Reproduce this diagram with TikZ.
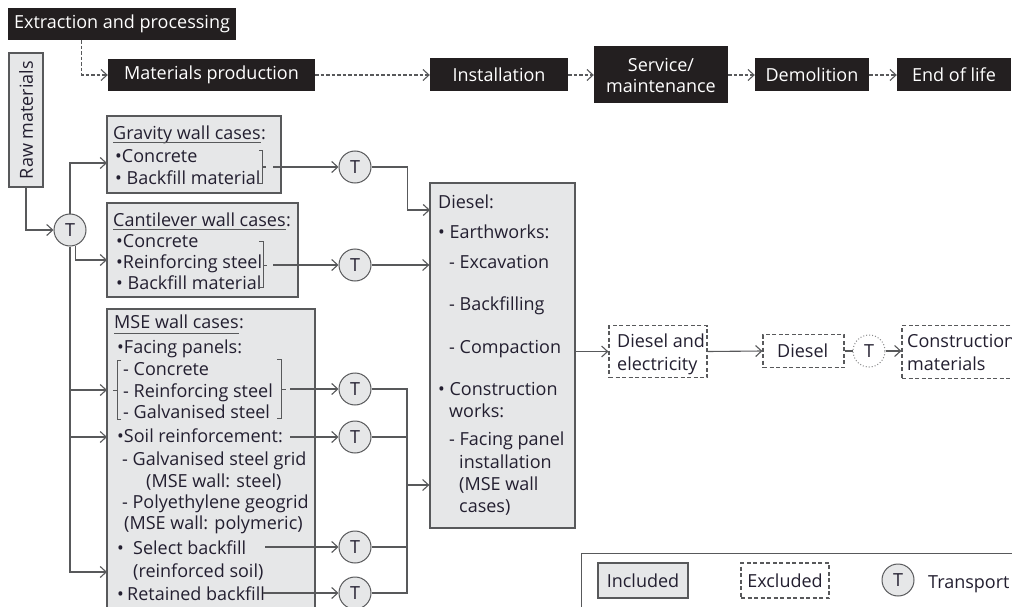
\documentclass[tikz,border=0pt]{standalone}
\usepackage{fontspec}
\setmainfont{Open Sans}
\usetikzlibrary{arrows.meta}
\definecolor{bk}{HTML}{231F20}
\definecolor{gf}{HTML}{E6E7E8}
\definecolor{lc}{HTML}{58595B}
\definecolor{tx}{HTML}{231F30}
\tikzset{
  blk/.style={fill=bk, text=white, inner sep=0pt, align=center},
  inc/.style={fill=gf, draw=lc, line width=1.3pt, inner sep=0pt, text=tx},
  exc/.style={draw=lc, line width=1.2pt, dash pattern=on 4pt off 2.5pt, inner sep=0pt, text=tx},
  tc/.style={circle, draw=lc, fill=gf, line width=1pt, minimum size=32pt, inner sep=0pt, text=tx},
  td/.style={circle, draw=lc!70, dotted, line width=1pt, minimum size=32pt, inner sep=0pt, text=tx},
  txt/.style={anchor=base west, inner sep=0pt, text=tx},
  wire/.style={draw=lc, line width=1.1pt},
  arr/.style={wire, -{Straight Barb[length=6pt,width=11pt]}},
  darr/.style={arr, dash pattern=on 3.5pt off 2pt},
  brk/.style={draw=lc, line width=1pt},
}
\begin{document}
\begin{tikzpicture}[x=1pt,y=-1pt,font=\fontsize{18}{21}\selectfont]
\clip (0,0) rectangle (1012,607);
\fill[white] (0,0) rectangle (1012,607);

% top chain
\node[blk, minimum width=228pt, minimum height=32pt] (extr) at (122,24) {Extraction and processing};
\node[blk, minimum width=207pt, minimum height=32pt] (matprod) at (211.5,75) {Materials production};
\node[blk, minimum width=138pt, minimum height=33pt] (install) at (499,75) {Installation};
\node[blk, minimum width=134pt, minimum height=57pt] (service) at (661,75) {Service/\\maintenance};
\node[blk, minimum width=114pt, minimum height=33pt] (demol) at (812,75) {Demolition};
\node[blk, minimum width=114pt, minimum height=33pt] (eol) at (954,75) {End of life};
\draw[darr] ([xshift=74pt]extr.south west) |- (matprod.west);
\draw[darr] (matprod.east) -- (install.west);
\draw[darr] (install.east) -- (service.west);
\draw[darr] (service.east) -- (demol.west);
\draw[darr] (demol.east) -- (eol.west);

% raw materials
\node[inc, minimum width=34pt, minimum height=134pt] (raw) at (26,120) {};
\node[rotate=90, text=tx, inner sep=0pt] (rawt) at (raw.center) {Raw materials};

% boxes
\node[inc, minimum width=174pt, minimum height=77pt] (grav) at (194,154.5) {};
\node[inc, minimum width=191pt, minimum height=94pt] (cant) at (202.5,250) {};
\node[inc, minimum width=208pt, minimum height=311pt] (mse) at (211,464.5) {};
\node[inc, minimum width=145pt, minimum height=345pt] (diesel) at (502.5,355.5) {};
\node[exc, minimum width=98pt, minimum height=52pt] (ex1) at (658,351.5) {};
\node[exc, minimum width=81pt, minimum height=33pt] (ex2) at (803.5,351) {};
\node[exc, minimum width=138pt, minimum height=53pt] (ex3) at (971,352) {};

% T circles
\node[tc] (t0) at (70,230) {T};
\node[tc] (t1) at (355,167) {T};
\node[tc] (t2) at (355,265) {T};
\node[tc] (t3) at (355,389) {T};
\node[tc] (t4) at (355,437) {T};
\node[tc] (t5) at (355,547) {T};
\node[tc] (t6) at (355,593) {T};
\node[td] (tdot) at (869,351) {T};

% gravity text
\node[txt] (gt) at (113,140) {Gravity wall cases};
\node[txt] at (gt.base east) {:};
\draw[brk] ([yshift=-3pt]gt.base west) -- ([yshift=-3pt]gt.base east);
\node[txt] at (115,163) {•Concrete};
\node[txt] at (115,184) {• Backfill material};
\draw[brk] (259,151) -- (262,151) -- (262,183) -- (259,183);
\draw[brk] (262,167) -- (266,167);

% cantilever text
\node[txt] (ct) at (113,226) {Cantilever wall cases};
\node[txt] at (ct.base east) {:};
\draw[brk] ([yshift=-3pt]ct.base west) -- ([yshift=-3pt]ct.base east);
\node[txt] at (116,247) {•Concrete};
\node[txt] at (116,268) {•Reinforcing steel};
\node[txt] at (116,289) {• Backfill material};
\draw[brk] (259,241) -- (263,241) -- (263,287) -- (259,287);
\draw[brk] (263,265) -- (267,265);

% MSE text
\node[txt] (mt) at (114,328) {MSE wall cases};
\node[txt] at (mt.base east) {:};
\draw[brk] ([yshift=-5pt]mt.base west) -- ([yshift=-5pt]mt.base east);
\node[txt] at (117,353) {•Facing panels:};
\node[txt] at (123,375) {- Concrete};
\node[txt] at (123,397) {- Reinforcing steel};
\node[txt] at (123,418) {- Galvanised steel};
\draw[brk] (121,360) -- (117,360) -- (117,419) -- (121,419);
\draw[brk] (113,390) -- (117,390);
\draw[brk] (277,359) -- (281,359) -- (281,418) -- (277,418);
\draw[brk] (281,389) -- (286,389);
\node[txt] at (117,442) {•Soil reinforcement:};
\node[txt] at (122,465) {- Galvanised steel grid};
\node[txt] at (146,487) {(MSE wall: steel)};
\node[txt] at (122,508) {- Polyethylene geogrid};
\node[txt] at (124,529) {(MSE wall: polymeric)};
\node[txt] at (117,554) {•};
\node[txt] at (133,554) {Select backfill};
\node[txt] at (133,577) {(reinforced soil)};
\node[txt] at (117,600) {•};
\node[txt] at (127,600) {Retained backfill};

% diesel text
\node[txt] at (438,208) {Diesel:};
\node[txt] at (438,238) {• Earthworks:};
\node[txt] at (449,268) {- Excavation};
\node[txt] at (449,310) {- Backfilling};
\node[txt] at (449,353) {- Compaction};
\node[txt] at (438,395) {• Construction};
\node[txt] at (449,417) {works:};
\node[txt] at (449,445) {- Facing panel};
\node[txt] at (459,468) {installation};
\node[txt] at (459,490) {(MSE wall};
\node[txt] at (459,512) {cases)};

% excluded texts
\node[txt] at (617,347) {Diesel and};
\node[txt] at (617,370) {electricity};
\node[txt] at (777,357) {Diesel};
\node[txt] at (907,347) {Construction};
\node[txt] at (907,370) {materials};

% connectors left
\coordinate (gin) at (107,163);
\coordinate (cin) at (107,260);
\coordinate (m1) at (107,390);
\coordinate (m2) at (107,437);
\coordinate (m3) at (107,572);
\draw[arr] (raw.south) |- (t0.west);
\draw[arr] (t0.north) |- (gin);
\draw[arr] (t0.-72) |- (cin);
\draw[arr] (t0.south) |- (m1);
\draw[arr] (t0.south) |- (m2);
\draw[arr] (t0.south) |- (m3);

% to T circles
\coordinate (gb) at (273,167);
\coordinate (cb) at (273,265);
\coordinate (f3) at (290,389);
\coordinate (f4) at (290,437);
\coordinate (f5) at (265,547);
\coordinate (f6) at (263,593);
\draw[arr] (gb) -- (t1.west);
\draw[arr] (cb) -- (t2.west);
\draw[arr] (f3) -- (t3.west);
\draw[arr] (f4) -- (t4.west);
\draw[arr] (f5) -- (t5.west);
\draw[arr] (f6) -- (t6.west);

% to diesel
\coordinate (din1) at (430,210);
\draw[arr] (t1.east) -- ++(36,0) |- (din1);
\draw[arr] (t2.east) -- (t2.east -| diesel.west);
\coordinate (bus) at (407,485);
\draw[wire] (t3.east) -| (bus);
\draw[wire] (t4.east) -| (bus);
\draw[wire] (t5.east) -| (bus);
\draw[wire] (t6.east) -| (bus);
\draw[arr] (bus) -- (bus -| diesel.west);

% right chain
\draw[arr] (diesel.east |- ex1.west) -- (ex1.west);
\draw[arr] (ex1.east) -- (ex2.west);
\draw[wire] (ex2.east) -- (tdot.west);
\draw[arr] (tdot.east) -- (ex3.west |- tdot.east);

% legend
\node[draw=lc, line width=1pt, minimum width=449pt, minimum height=77pt, inner sep=0pt] (leg) at (805.5,591.5) {};
\node[inc, minimum width=90pt, minimum height=35pt] (linc) at (643,580.5) {Included};
\node[exc, minimum width=88pt, minimum height=35pt] (lexc) at (785,580.5) {Excluded};
\node[tc] (lt) at (898,580) {T};
\node[txt] (ltt) at (928,588) {Transport};
\end{tikzpicture}
\end{document}
